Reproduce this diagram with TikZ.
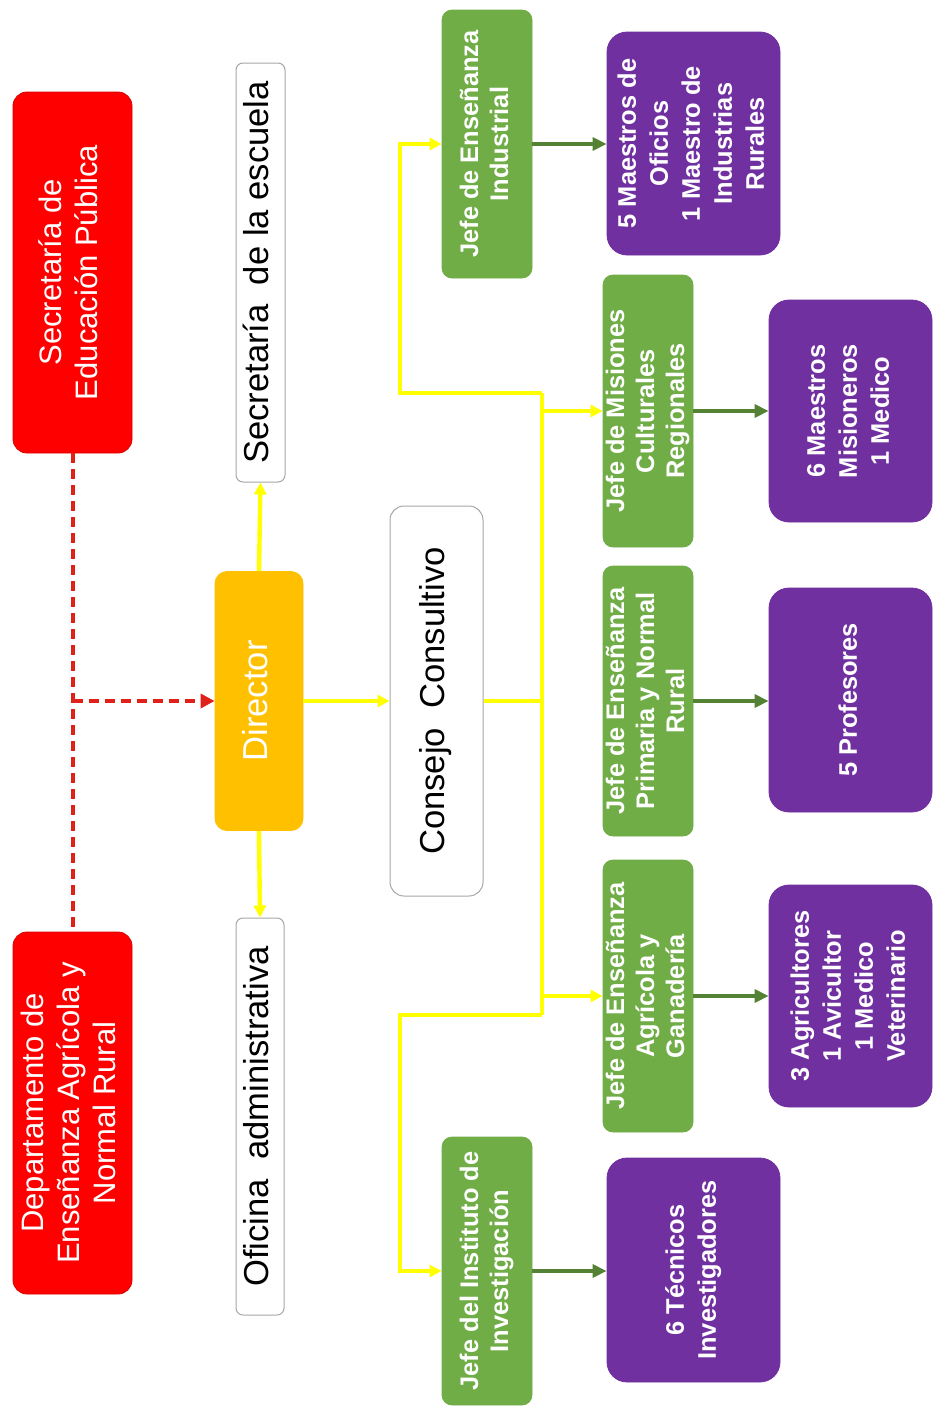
\documentclass[tikz,border=0pt]{standalone}
\usepackage{fontspec}
\setmainfont{Liberation Sans}
\usepackage{graphicx}
\usetikzlibrary{arrows.meta}
\definecolor{cred}{HTML}{FF0000}
\definecolor{cdred}{HTML}{E0201B}
\definecolor{corange}{HTML}{FFC000}
\definecolor{cgreen}{HTML}{70AD47}
\definecolor{cdgreen}{HTML}{548235}
\definecolor{cpurple}{HTML}{7030A0}
\definecolor{cyellow}{HTML}{FFFF00}
\definecolor{cgray}{HTML}{A6A6A6}
\newcommand{\vtext}[4]{\rotatebox{90}{\fontsize{#1}{#2}\selectfont#3\begin{tabular}{@{}c@{}}#4\end{tabular}}}
\newcommand{\vbig}[1]{\vtext{17.3pt}{20pt}{}{#1}}
\newcommand{\vred}[1]{\vtext{15.5pt}{18pt}{}{#1}}
\newcommand{\vgreen}[1]{\vtext{12.7pt}{15pt}{\bfseries}{#1}}
\newcommand{\vbold}[1]{\vtext{12.7pt}{16pt}{\bfseries}{#1}}
\tikzset{
  sz/.style 2 args={minimum width=#1*0.5pt, minimum height=#2*0.5pt, inner sep=0pt},
  redbox/.style={draw=cred!85!black, fill=cred, rounded corners=7pt, text=white, line width=0.4pt},
  whitebox/.style={draw=cgray, fill=white, rounded corners=3.5pt, text=black, line width=0.5pt},
  conbox/.style={draw=cgray, fill=white, rounded corners=7pt, text=black, line width=0.5pt},
  dirbox/.style={draw=corange, fill=corange, rounded corners=6pt, text=white},
  greenbox/.style={draw=cgreen, fill=cgreen, rounded corners=5pt, text=white},
  purplebox/.style={draw=cpurple, fill=cpurple, rounded corners=10pt, text=white},
  ylw/.style={draw=cyellow, line width=2.2pt},
  yarr/.style={ylw, -{Triangle[length=6pt,width=6pt]}},
  reddash/.style={draw=cdred, line width=2pt, dash pattern=on 5pt off 3pt},
  redarr/.style={reddash, -{Triangle[length=7pt,width=7pt]}},
  garr/.style={draw=cdgreen, line width=2pt, -{Triangle[length=7pt,width=6.5pt]}}
}
\begin{document}
\begin{tikzpicture}[x=0.5pt, y=-0.5pt]
\useasboundingbox (0,0) rectangle (934,1408);
% left column
\node[redbox, sz={119}{361}] (sep) at (72.5,272.5) {\vred{Secretaría de\\Educación Pública}};
\node[redbox, sz={119}{362}] (dep) at (72.5,1113) {\vred{Departamento de\\Enseñanza Agrícola y\\Normal Rural}};
% second column
\node[whitebox, sz={49}{419}] (esc) at (260.5,272.5) {\vbig{Secretaría\ \ de la escuela}};
\node[whitebox, sz={48}{397}] (ofi) at (260,1116.5) {\vbig{Oficina\ \ administrativa}};
\node[dirbox, sz={88}{259}] (dir) at (259,701) {\vbig{Director}};
\node[conbox, sz={93}{390}] (con) at (436.5,701) {\vbig{Consejo\ \ Consultivo}};
% green chiefs
\node[greenbox, sz={90}{268}] (ind) at (487,144) {\vgreen{Jefe de Enseñanza\\Industrial}};
\node[greenbox, sz={90}{272}] (mis) at (648,411) {\vgreen{Jefe de Misiones\\Culturales\\Regionales}};
\node[greenbox, sz={90}{270}] (pri) at (648,701) {\vgreen{Jefe de Enseñanza\\Primaria y Normal\\Rural}};
\node[greenbox, sz={90}{272}] (agr) at (648,996) {\vgreen{Jefe de Enseñanza\\Agrícola y\\Ganadería}};
\node[greenbox, sz={90}{268}] (ins) at (487,1271) {\vgreen{Jefe del Instituto de\\Investigación}};
% purple staff
\node[purplebox, sz={173}{223}] (p1) at (693.5,143.5) {\vbold{5 Maestros de\\Oficios\\1 Maestro de\\Industrias\\Rurales}};
\node[purplebox, sz={163}{222}] (p2) at (850.5,411) {\vbold{6 Maestros\\Misioneros\\1 Medico}};
\node[purplebox, sz={163}{224}] (p3) at (850.5,700) {\vbold{5 Profesores}};
\node[purplebox, sz={163}{222}] (p4) at (850.5,996) {\vbold{3 Agricultores\\1 Avicultor\\1 Medico\\Veterinario}};
\node[purplebox, sz={173}{224}] (p5) at (693.5,1270) {\vbold{6 Técnicos\\Investigadores}};
% red dashed
\coordinate (rj) at (72.5,701);
\draw[reddash] (sep.south) -- (dep.north);
\draw[redarr] (rj) -- (dir.west);
% yellow
\coordinate (bus) at (542,701);
\coordinate (bt) at (542,393);
\coordinate (bb) at (542,1015);
\coordinate (lt) at (400,393);
\coordinate (lb) at (400,1015);
\draw[yarr] (dir.north) -- (esc.south);
\draw[yarr] (dir.south) -- (ofi.north);
\draw[yarr] (dir.east) -- (con.west);
\draw[ylw] (con.east) -- (bus);
\draw[ylw] (bt) -- (bb);
\draw[yarr, line join=miter] (bt) -- (lt) -- (lt |- ind.west) -- (ind.west);
\draw[yarr, line join=miter] (bb) -- (lb) -- (lb |- ins.west) -- (ins.west);
\draw[yarr] (bt |- mis.west) -- (mis.west);
\draw[yarr] (bt |- agr.west) -- (agr.west);
% dark green
\draw[garr] (ind.east) -- (ind.east -| p1.west);
\draw[garr] (mis.east) -- (mis.east -| p2.west);
\draw[garr] (pri.east) -- (pri.east -| p3.west);
\draw[garr] (agr.east) -- (agr.east -| p4.west);
\draw[garr] (ins.east) -- (ins.east -| p5.west);
\end{tikzpicture}
\end{document}
